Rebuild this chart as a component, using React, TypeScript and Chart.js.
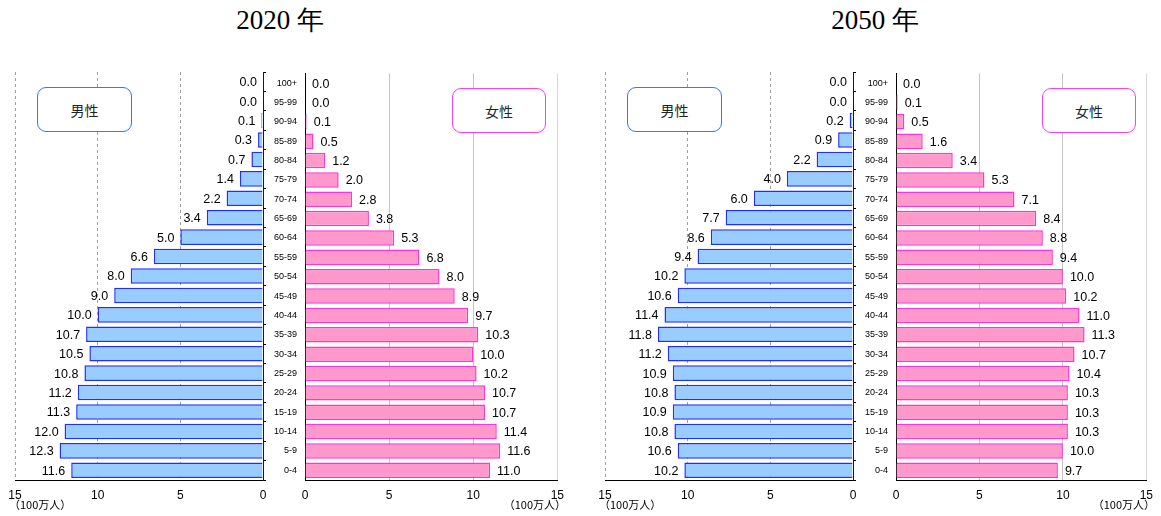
import React, { useEffect, useRef } from 'react';
import { Chart, registerables } from 'chart.js';

Chart.register(...registerables);

const ageLabels = ['100+', '95-99', '90-94', '85-89', '80-84', '75-79', '70-74', '65-69', '60-64', '55-59', '50-54', '45-49', '40-44', '35-39', '30-34', '25-29', '20-24', '15-19', '10-14', '5-9', '0-4'];
const male2020 = [0.0, 0.0, 0.1, 0.3, 0.7, 1.4, 2.2, 3.4, 5.0, 6.6, 8.0, 9.0, 10.0, 10.7, 10.5, 10.8, 11.2, 11.3, 12.0, 12.3, 11.6];
const female2020 = [0.0, 0.0, 0.1, 0.5, 1.2, 2.0, 2.8, 3.8, 5.3, 6.8, 8.0, 8.9, 9.7, 10.3, 10.0, 10.2, 10.7, 10.7, 11.4, 11.6, 11.0];
const male2050 = [0.0, 0.0, 0.2, 0.9, 2.2, 4.0, 6.0, 7.7, 8.6, 9.4, 10.2, 10.6, 11.4, 11.8, 11.2, 10.9, 10.8, 10.9, 10.8, 10.6, 10.2];
const female2050 = [0.0, 0.1, 0.5, 1.6, 3.4, 5.3, 7.1, 8.4, 8.8, 9.4, 10.0, 10.2, 11.0, 11.3, 10.7, 10.4, 10.3, 10.3, 10.3, 10.0, 9.7];
const xTicks = [0, 5, 10, 15];
const titles = ['2020 年', '2050 年'];
const maleLabel = '男性';
const femaleLabel = '女性';
const unitLabel = '（100万人）';

const FONT = '"Liberation Sans", Arial, sans-serif';
const CJK = '"Noto Sans CJK JP", "Noto Sans", sans-serif';

const valueLabels = {
  id: 'valueLabels',
  afterDatasetsDraw(chart: any, _args: any, opts: any) {
    const ctx = chart.ctx;
    const meta = chart.getDatasetMeta(0);
    const data = chart.data.datasets[0].data as number[];
    ctx.save();
    ctx.font = '12.5px ' + FONT;
    ctx.fillStyle = '#000';
    ctx.textBaseline = 'middle';
    meta.data.forEach((bar: any, i: number) => {
      const txt = Number(data[i]).toFixed(1);
      if (opts.side === 'male') {
        ctx.textAlign = 'right';
        ctx.fillText(txt, bar.x - 6, bar.y + 1);
      } else {
        ctx.textAlign = 'left';
        ctx.fillText(txt, bar.x + 7, bar.y + 1);
      }
    });
    ctx.restore();
  },
};

function makeConfig(values: number[], side: 'male' | 'female'): any {
  const male = side === 'male';
  return {
    type: 'bar',
    data: {
      labels: ageLabels,
      datasets: [
        {
          data: values,
          backgroundColor: male ? '#99ccff' : '#ff99cc',
          borderColor: male ? '#1f2fff' : '#ff33d6',
          borderWidth: 1.5,
          barPercentage: 0.8,
          categoryPercentage: 1,
        },
      ],
    },
    plugins: [valueLabels],
    options: {
      indexAxis: 'y',
      responsive: false,
      maintainAspectRatio: false,
      animation: false,
      events: [],
      layout: {
        padding: male ? { left: 15, right: 6, top: 12, bottom: 0 } : { left: 0, right: 9, top: 12, bottom: 0 },
      },
      plugins: {
        legend: { display: false },
        tooltip: { enabled: false },
        valueLabels: { side },
      },
      scales: {
        x: {
          reverse: male,
          min: 0,
          max: 15,
          afterBuildTicks: (scale: any) => {
            scale.ticks = xTicks.map((v) => ({ value: v }));
          },
          ticks: {
            padding: 8,
            maxRotation: 0,
            color: '#000',
            font: { size: 12, family: FONT },
          },
          grid: {
            drawTicks: false,
            lineWidth: 1,
            color: (c: any) => {
              if (c.tick && c.tick.value === 0) return 'rgba(0,0,0,0)';
              if (male) return '#a0a0a0';
              return c.tick && c.tick.value === 15 ? '#d8d8d8' : '#c4c4c4';
            },
          },
          border: { display: true, color: '#000', width: 1, dash: male ? [3, 3] : [] },
          afterFit: (scale: any) => {
            scale.height = 36;
          },
        },
        y: {
          position: male ? 'right' : 'left',
          ticks: {
            display: !male,
            color: '#000',
            padding: 8,
            font: { size: 9, family: FONT },
          },
          grid: {
            drawOnChartArea: false,
            drawTicks: male,
            tickLength: 3,
            color: '#000',
            offset: true,
          },
          border: { display: true, color: male ? '#101060' : '#000', width: 1 },
          afterFit: (scale: any) => {
            scale.width = male ? 6 : 43;
          },
        },
      },
    },
  };
}

const panels = [
  { left: 0, width: 275, values: male2020, side: 'male' as const },
  { left: 262, width: 310, values: female2020, side: 'female' as const },
  { left: 590, width: 275, values: male2050, side: 'male' as const },
  { left: 853, width: 308, values: female2050, side: 'female' as const },
];

const boxStyle = (left: number, top: number, w: number, h: number, color: string): React.CSSProperties => ({
  position: 'absolute',
  left,
  top,
  width: w,
  height: h,
  boxSizing: 'border-box',
  border: `1px solid ${color}`,
  borderRadius: 9,
  background: '#fff',
  display: 'flex',
  alignItems: 'center',
  justifyContent: 'center',
  fontFamily: CJK,
  fontSize: 14,
  color: '#222',
});

const unitStyle = (left: number, width: number, align: 'left' | 'right'): React.CSSProperties => ({
  position: 'absolute',
  left,
  width,
  top: 498,
  lineHeight: '13px',
  fontFamily: CJK,
  fontSize: 11,
  color: '#000',
  textAlign: align,
  whiteSpace: 'nowrap',
});

export default function App() {
  const refs = useRef<(HTMLCanvasElement | null)[]>([]);

  useEffect(() => {
    const charts = panels.map((p, i) => {
      const c = refs.current[i] as HTMLCanvasElement;
      return new Chart(c, makeConfig(p.values, p.side));
    });
    return () => charts.forEach((ch) => ch.destroy());
  }, []);

  return (
    <div style={{ position: 'absolute', left: 0, top: 0, width: 1161, height: 516, background: '#fff', overflow: 'hidden' }}>
      {panels.map((p, i) => (
        <canvas
          key={i}
          ref={(el) => {
            refs.current[i] = el;
          }}
          width={p.width}
          height={456}
          style={{ position: 'absolute', left: p.left, top: 60, width: p.width, height: 456 }}
        />
      ))}
      <div style={{ position: 'absolute', left: 180, width: 200, top: 7, textAlign: 'center', fontFamily: '"Liberation Serif", "Times New Roman", serif', fontSize: 27, lineHeight: '27px', color: '#000' }}>{titles[0]}</div>
      <div style={{ position: 'absolute', left: 775, width: 200, top: 7, textAlign: 'center', fontFamily: '"Liberation Serif", "Times New Roman", serif', fontSize: 27, lineHeight: '27px', color: '#000' }}>{titles[1]}</div>
      <div style={boxStyle(37, 87, 95, 45, '#3f6fff')}>{maleLabel}</div>
      <div style={boxStyle(452, 88, 94, 45, '#ff3fe6')}>{femaleLabel}</div>
      <div style={boxStyle(627, 87, 95, 45, '#3f6fff')}>{maleLabel}</div>
      <div style={boxStyle(1042, 88, 94, 45, '#ff3fe6')}>{femaleLabel}</div>
      <div style={unitStyle(9, 80, 'left')}>{unitLabel}</div>
      <div style={unitStyle(466, 100, 'right')}>{unitLabel}</div>
      <div style={unitStyle(599, 80, 'left')}>{unitLabel}</div>
      <div style={unitStyle(1055, 100, 'right')}>{unitLabel}</div>
    </div>
  );
}
